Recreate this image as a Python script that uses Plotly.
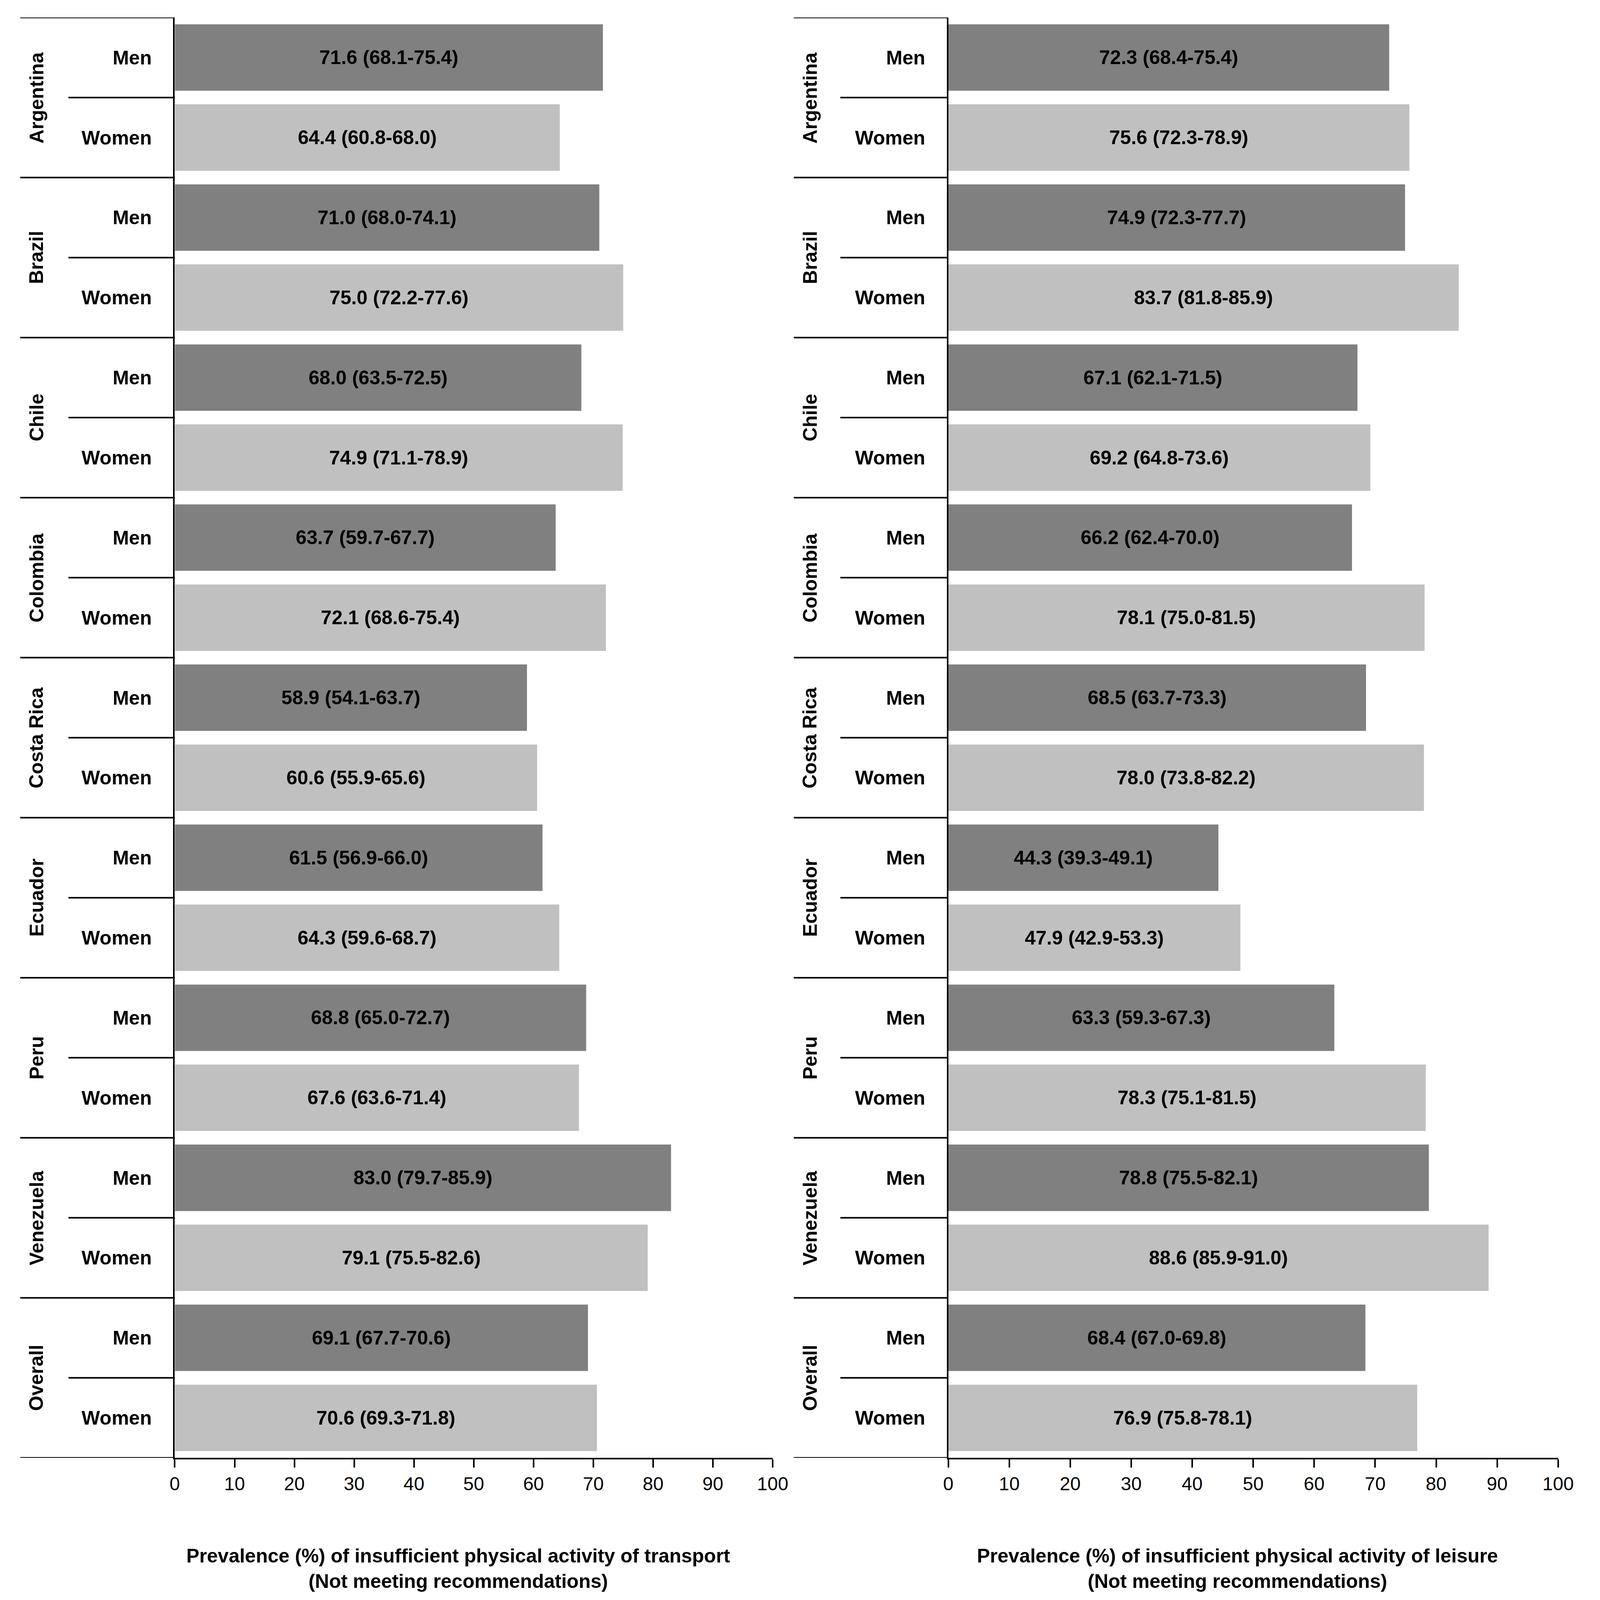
#!/usr/bin/env python3
import plotly.graph_objects as go

countries = ["Argentina", "Brazil", "Chile", "Colombia", "Costa Rica",
             "Ecuador", "Peru", "Venezuela", "Overall"]
sexes = ["Men", "Women"]

transport = [71.6, 64.4, 71.0, 75.0, 68.0, 74.9, 63.7, 72.1, 58.9,
             60.6, 61.5, 64.3, 68.8, 67.6, 83.0, 79.1, 69.1, 70.6]
transport_ci = ["68.1-75.4", "60.8-68.0", "68.0-74.1", "72.2-77.6", "63.5-72.5",
                "71.1-78.9", "59.7-67.7", "68.6-75.4", "54.1-63.7", "55.9-65.6",
                "56.9-66.0", "59.6-68.7", "65.0-72.7", "63.6-71.4", "79.7-85.9",
                "75.5-82.6", "67.7-70.6", "69.3-71.8"]
leisure = [72.3, 75.6, 74.9, 83.7, 67.1, 69.2, 66.2, 78.1, 68.5,
           78.0, 44.3, 47.9, 63.3, 78.3, 78.8, 88.6, 68.4, 76.9]
leisure_ci = ["68.4-75.4", "72.3-78.9", "72.3-77.7", "81.8-85.9", "62.1-71.5",
              "64.8-73.6", "62.4-70.0", "75.0-81.5", "63.7-73.3", "73.8-82.2",
              "39.3-49.1", "42.9-53.3", "59.3-67.3", "75.1-81.5", "75.5-82.1",
              "85.9-91.0", "67.0-69.8", "75.8-78.1"]
x_ticks = list(range(0, 101, 10))

FONT = "Liberation Sans"
DARK = "#808080"
LIGHT = "#c0c0c0"
FS = 50  # base font size


def add_panel(fig, values, cis, axis, domain, left_edge, sex_edge, title):
    """Add one panel of bars, labels and divider lines."""
    rows = list(range(len(values)))
    colors = [DARK if i % 2 == 0 else LIGHT for i in rows]
    texts = [f"<b>{v:.1f} ({c})</b>" for v, c in zip(values, cis)]
    fig.add_trace(go.Bar(
        x=values, y=rows, orientation="h", width=0.83,
        marker=dict(color=colors, line=dict(width=0)),
        text=texts, textposition="inside", insidetextanchor="middle",
        textfont=dict(family=FONT, size=FS, color="black"),
        xaxis="x" + axis, yaxis="y" + axis, showlegend=False,
    ))
    xname = "xaxis" + axis
    yname = "yaxis" + axis
    fig.update_layout({
        xname: dict(domain=domain, range=[0, 100], tickvals=x_ticks,
                    anchor="y" + axis, showline=True, linecolor="black",
                    linewidth=4, ticks="outside", ticklen=21, tickwidth=4,
                    tickcolor="black", showgrid=False, zeroline=False,
                    tickfont=dict(family=FONT, size=FS - 2, color="black")),
        yname: dict(domain=[0.0908, 0.991], range=[17.5, -0.5],
                    anchor="x" + axis, showline=True, linecolor="black",
                    linewidth=4, showgrid=False, zeroline=False,
                    tickvals=rows, ticktext=[f"<b>{sexes[i % 2]}</b>" for i in rows],
                    ticklabelstandoff=45,
                    tickfont=dict(family=FONT, size=FS, color="black")),
    })
    # divider lines
    for b in range(len(values) + 1):
        x0 = left_edge if b % 2 == 0 else sex_edge
        fig.add_shape(type="line", xref="paper", yref="y" + axis,
                      x0=x0, x1=domain[0], y0=b - 0.5, y1=b - 0.5,
                      line=dict(color="black", width=4))
    # country labels
    for k, country in enumerate(countries):
        fig.add_annotation(text=f"<b>{country}</b>", xref="paper", yref="y" + axis,
                           x=left_edge + 0.0104, y=2 * k + 0.5, textangle=-90,
                           showarrow=False, xanchor="center", yanchor="middle",
                           font=dict(family=FONT, size=FS, color="black"))
    fig.add_annotation(text=f"<b>{title}<br>(Not meeting recommendations)</b>",
                       xref="paper", yref="paper", x=sum(domain) / 2 - 0.01,
                       y=0.0216, showarrow=False, xanchor="center", yanchor="middle",
                       font=dict(family=FONT, size=FS, color="black"))


def generate_plot():
    """Build the two-panel prevalence chart."""
    fig = go.Figure()
    add_panel(fig, transport, transport_ci, "", [0.1059, 0.486], 0.00765, 0.0383,
              "Prevalence (%) of insufficient physical activity of transport")
    add_panel(fig, leisure, leisure_ci, "2", [0.5976, 0.9853], 0.4994, 0.529,
              "Prevalence (%) of insufficient physical activity of leisure")
    fig.update_layout(
        autosize=True,
        margin=dict(l=0, r=0, t=0, b=0),
        plot_bgcolor="white", paper_bgcolor="white",
    )
    fig.write_html("out.html", config={"responsive": True},
                   default_width="100%", default_height="100vh")


if __name__ == "__main__":
    generate_plot()
